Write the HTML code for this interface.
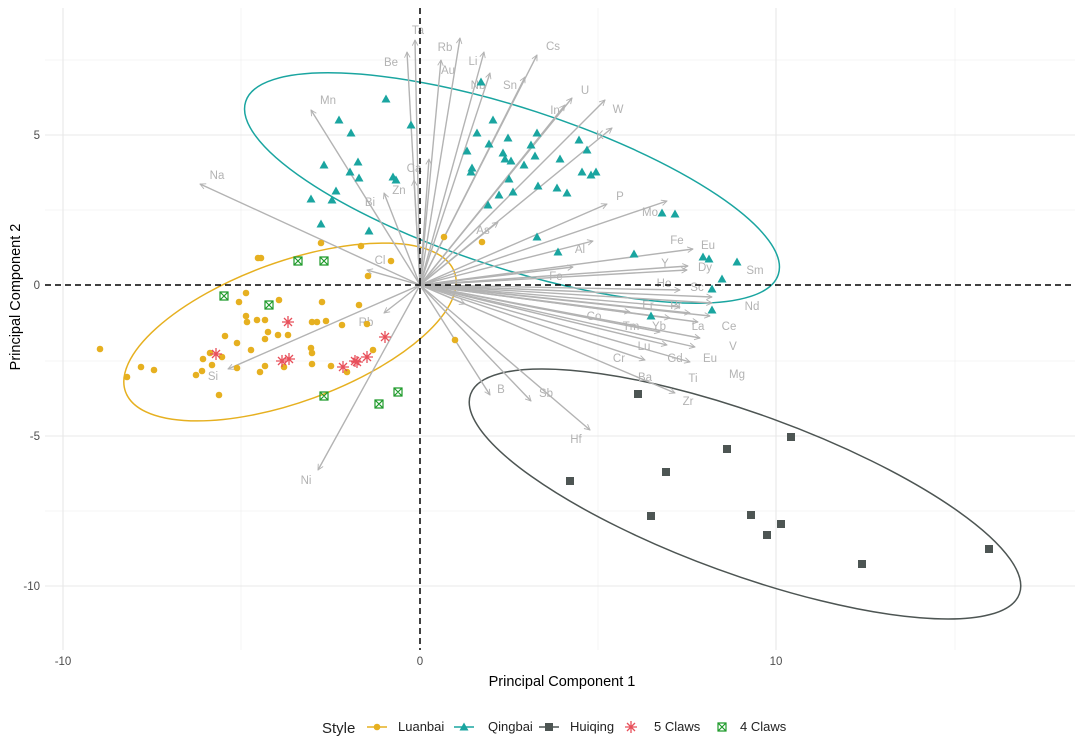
<!DOCTYPE html>
<html><head><meta charset="utf-8"><style>
html,body{margin:0;padding:0;background:#fff;}
svg{display:block;font-family:"Liberation Sans",Arial,sans-serif;}
</style></head><body>
<svg width="1080" height="756" viewBox="0 0 1080 756" xmlns="http://www.w3.org/2000/svg">
<defs>
<marker id="ah" viewBox="0 0 10 10" refX="9" refY="5" markerWidth="7" markerHeight="7" orient="auto" markerUnits="userSpaceOnUse">
<path d="M1,1 L9,5 L1,9" fill="none" stroke="#b3b3b3" stroke-width="1.3"/></marker>
<symbol id="tri" viewBox="-5 -5 10 10" overflow="visible"><path d="M0,-4.5 L4.5,3.5 L-4.5,3.5Z" fill="#1aa5a0"/></symbol>
</defs>
<rect width="1080" height="756" fill="#fff"/>
<g stroke="#f2f2f2" stroke-width="0.8">
<line x1="241" y1="8" x2="241" y2="650"/><line x1="598" y1="8" x2="598" y2="650"/><line x1="955" y1="8" x2="955" y2="650"/>
<line x1="45" y1="60" x2="1075" y2="60"/><line x1="45" y1="210" x2="1075" y2="210"/><line x1="45" y1="361" x2="1075" y2="361"/><line x1="45" y1="511" x2="1075" y2="511"/>
</g>
<g stroke="#e8e8e8" stroke-width="1.1">
<line x1="63" y1="8" x2="63" y2="650"/><line x1="776" y1="8" x2="776" y2="650"/>
<line x1="45" y1="135" x2="1075" y2="135"/><line x1="45" y1="436" x2="1075" y2="436"/><line x1="45" y1="586" x2="1075" y2="586"/>
</g>
<g fill="none" stroke-width="1.5">
<ellipse cx="512" cy="188" rx="280" ry="80" transform="rotate(18 512 188)" stroke="#1aa5a0"/>
<ellipse cx="290" cy="332" rx="175" ry="70" transform="rotate(-20 290 332)" stroke="#e6b020"/>
<ellipse cx="745" cy="494" rx="292" ry="80" transform="rotate(20 745 494)" stroke="#4d5553"/>
</g>
<g stroke="#b3b3b3" stroke-width="1.4" marker-end="url(#ah)">
<line x1="420" y1="285" x2="415" y2="40"/>
<line x1="420" y1="285" x2="407" y2="52"/>
<line x1="420" y1="285" x2="460" y2="38"/>
<line x1="420" y1="285" x2="441" y2="60"/>
<line x1="420" y1="285" x2="484" y2="52"/>
<line x1="420" y1="285" x2="490" y2="73"/>
<line x1="420" y1="285" x2="525" y2="77"/>
<line x1="420" y1="285" x2="537" y2="55"/>
<line x1="420" y1="285" x2="572" y2="98"/>
<line x1="420" y1="285" x2="565" y2="105"/>
<line x1="420" y1="285" x2="605" y2="100"/>
<line x1="420" y1="285" x2="612" y2="128"/>
<line x1="420" y1="285" x2="311" y2="110"/>
<line x1="420" y1="285" x2="200" y2="184"/>
<line x1="420" y1="285" x2="429" y2="159"/>
<line x1="420" y1="285" x2="414" y2="180"/>
<line x1="420" y1="285" x2="384" y2="193"/>
<line x1="420" y1="285" x2="367" y2="270"/>
<line x1="420" y1="285" x2="607" y2="204"/>
<line x1="420" y1="285" x2="667" y2="201"/>
<line x1="420" y1="285" x2="498" y2="222"/>
<line x1="420" y1="285" x2="593" y2="241"/>
<line x1="420" y1="285" x2="693" y2="249"/>
<line x1="420" y1="285" x2="573" y2="267"/>
<line x1="420" y1="285" x2="687" y2="270"/>
<line x1="420" y1="285" x2="688" y2="266"/>
<line x1="420" y1="285" x2="680" y2="290"/>
<line x1="420" y1="285" x2="712" y2="297"/>
<line x1="420" y1="285" x2="712" y2="303"/>
<line x1="420" y1="285" x2="680" y2="307"/>
<line x1="420" y1="285" x2="690" y2="313"/>
<line x1="420" y1="285" x2="710" y2="316"/>
<line x1="420" y1="285" x2="670" y2="318"/>
<line x1="420" y1="285" x2="698" y2="322"/>
<line x1="420" y1="285" x2="630" y2="312"/>
<line x1="420" y1="285" x2="660" y2="332"/>
<line x1="420" y1="285" x2="700" y2="338"/>
<line x1="420" y1="285" x2="667" y2="345"/>
<line x1="420" y1="285" x2="695" y2="347"/>
<line x1="420" y1="285" x2="690" y2="362"/>
<line x1="420" y1="285" x2="645" y2="360"/>
<line x1="420" y1="285" x2="675" y2="393"/>
<line x1="420" y1="285" x2="490" y2="395"/>
<line x1="420" y1="285" x2="531" y2="401"/>
<line x1="420" y1="285" x2="590" y2="430"/>
<line x1="420" y1="285" x2="318" y2="470"/>
<line x1="420" y1="285" x2="228" y2="369"/>
<line x1="420" y1="285" x2="384" y2="313"/>
<line x1="420" y1="285" x2="465" y2="304"/>
</g>
<g fill="#b3b3b3" font-size="11.5" text-anchor="middle">
<text x="418" y="34">Ta</text><text x="391" y="66">Be</text><text x="445" y="51">Rb</text><text x="448" y="74">Au</text>
<text x="473" y="65">Li</text><text x="478" y="89">Nb</text><text x="510" y="89">Sn</text><text x="553" y="50">Cs</text>
<text x="585" y="94">U</text><text x="555" y="114">In</text><text x="618" y="113">W</text><text x="600" y="139">K</text>
<text x="328" y="104">Mn</text><text x="217" y="179">Na</text><text x="414" y="172">Ca</text><text x="399" y="194">Zn</text>
<text x="370" y="206">Bi</text><text x="380" y="264">Cl</text><text x="620" y="200">P</text><text x="650" y="216">Mo</text>
<text x="483" y="234">As</text><text x="580" y="253">Al</text><text x="556" y="280">Fe</text><text x="677" y="244">Fe</text><text x="708" y="249">Eu</text>
<text x="665" y="267">Y</text><text x="705" y="271">Dy</text><text x="755" y="274">Sm</text><text x="664" y="287">Ho</text>
<text x="697" y="291">Sc</text><text x="752" y="310">Nd</text><text x="648" y="309">Er</text><text x="676" y="309">Pr</text><text x="594" y="320">Co</text>
<text x="631" y="330">Tm</text><text x="659" y="330">Yb</text><text x="698" y="330">La</text><text x="729" y="330">Ce</text>
<text x="733" y="350">V</text><text x="644" y="350">Lu</text><text x="675" y="362">Gd</text><text x="710" y="362">Eu</text>
<text x="737" y="378">Mg</text><text x="619" y="362">Cr</text><text x="645" y="381">Ba</text><text x="693" y="382">Ti</text>
<text x="688" y="405">Zr</text><text x="501" y="393">B</text><text x="546" y="397">Sb</text><text x="576" y="443">Hf</text>
<text x="306" y="484">Ni</text><text x="213" y="380">Si</text><text x="366" y="326">Rb</text>
</g>
<g stroke="#000" stroke-width="1.5" stroke-dasharray="6,4">
<line x1="420" y1="8" x2="420" y2="650"/><line x1="45" y1="285" x2="1075" y2="285"/>
</g>
<g fill="#e6b020">
<circle cx="321" cy="243" r="3.3"/><circle cx="361" cy="246" r="3.3"/><circle cx="258" cy="258" r="3.3"/><circle cx="261" cy="258" r="3.3"/><circle cx="391" cy="261" r="3.3"/><circle cx="368" cy="276" r="3.3"/><circle cx="246" cy="293" r="3.3"/><circle cx="239" cy="302" r="3.3"/><circle cx="279" cy="300" r="3.3"/><circle cx="322" cy="302" r="3.3"/><circle cx="359" cy="305" r="3.3"/><circle cx="246" cy="316" r="3.3"/><circle cx="257" cy="320" r="3.3"/><circle cx="265" cy="320" r="3.3"/><circle cx="312" cy="322" r="3.3"/><circle cx="317" cy="322" r="3.3"/><circle cx="326" cy="321" r="3.3"/><circle cx="342" cy="325" r="3.3"/><circle cx="367" cy="324" r="3.3"/><circle cx="247" cy="322" r="3.3"/><circle cx="268" cy="332" r="3.3"/><circle cx="278" cy="335" r="3.3"/><circle cx="288" cy="335" r="3.3"/><circle cx="265" cy="339" r="3.3"/><circle cx="225" cy="336" r="3.3"/><circle cx="237" cy="343" r="3.3"/><circle cx="311" cy="348" r="3.3"/><circle cx="312" cy="353" r="3.3"/><circle cx="373" cy="350" r="3.3"/><circle cx="251" cy="350" r="3.3"/><circle cx="210" cy="353" r="3.3"/><circle cx="222" cy="357" r="3.3"/><circle cx="203" cy="359" r="3.3"/><circle cx="100" cy="349" r="3.3"/><circle cx="141" cy="367" r="3.3"/><circle cx="154" cy="370" r="3.3"/><circle cx="212" cy="365" r="3.3"/><circle cx="202" cy="371" r="3.3"/><circle cx="196" cy="375" r="3.3"/><circle cx="127" cy="377" r="3.3"/><circle cx="237" cy="368" r="3.3"/><circle cx="265" cy="366" r="3.3"/><circle cx="260" cy="372" r="3.3"/><circle cx="284" cy="367" r="3.3"/><circle cx="312" cy="364" r="3.3"/><circle cx="331" cy="366" r="3.3"/><circle cx="347" cy="372" r="3.3"/><circle cx="219" cy="395" r="3.3"/><circle cx="444" cy="237" r="3.3"/><circle cx="482" cy="242" r="3.3"/><circle cx="455" cy="340" r="3.3"/>
</g>
<g>
<use href="#tri" x="381" y="94" width="10" height="10"/><use href="#tri" x="334" y="115" width="10" height="10"/><use href="#tri" x="346" y="128" width="10" height="10"/><use href="#tri" x="406" y="120" width="10" height="10"/><use href="#tri" x="319" y="160" width="10" height="10"/><use href="#tri" x="353" y="157" width="10" height="10"/><use href="#tri" x="345" y="167" width="10" height="10"/><use href="#tri" x="354" y="173" width="10" height="10"/><use href="#tri" x="388" y="172" width="10" height="10"/><use href="#tri" x="391" y="175" width="10" height="10"/><use href="#tri" x="331" y="186" width="10" height="10"/><use href="#tri" x="327" y="195" width="10" height="10"/><use href="#tri" x="306" y="194" width="10" height="10"/><use href="#tri" x="316" y="219" width="10" height="10"/><use href="#tri" x="364" y="226" width="10" height="10"/><use href="#tri" x="476" y="77" width="10" height="10"/><use href="#tri" x="488" y="115" width="10" height="10"/><use href="#tri" x="472" y="128" width="10" height="10"/><use href="#tri" x="503" y="133" width="10" height="10"/><use href="#tri" x="532" y="128" width="10" height="10"/><use href="#tri" x="574" y="135" width="10" height="10"/><use href="#tri" x="484" y="139" width="10" height="10"/><use href="#tri" x="526" y="140" width="10" height="10"/><use href="#tri" x="462" y="146" width="10" height="10"/><use href="#tri" x="498" y="148" width="10" height="10"/><use href="#tri" x="530" y="151" width="10" height="10"/><use href="#tri" x="500" y="154" width="10" height="10"/><use href="#tri" x="506" y="156" width="10" height="10"/><use href="#tri" x="555" y="154" width="10" height="10"/><use href="#tri" x="582" y="145" width="10" height="10"/><use href="#tri" x="519" y="160" width="10" height="10"/><use href="#tri" x="467" y="163" width="10" height="10"/><use href="#tri" x="466" y="167" width="10" height="10"/><use href="#tri" x="577" y="167" width="10" height="10"/><use href="#tri" x="591" y="167" width="10" height="10"/><use href="#tri" x="586" y="170" width="10" height="10"/><use href="#tri" x="504" y="174" width="10" height="10"/><use href="#tri" x="508" y="187" width="10" height="10"/><use href="#tri" x="494" y="190" width="10" height="10"/><use href="#tri" x="533" y="181" width="10" height="10"/><use href="#tri" x="552" y="183" width="10" height="10"/><use href="#tri" x="562" y="188" width="10" height="10"/><use href="#tri" x="483" y="200" width="10" height="10"/><use href="#tri" x="532" y="232" width="10" height="10"/><use href="#tri" x="553" y="247" width="10" height="10"/><use href="#tri" x="629" y="249" width="10" height="10"/><use href="#tri" x="657" y="208" width="10" height="10"/><use href="#tri" x="670" y="209" width="10" height="10"/><use href="#tri" x="698" y="252" width="10" height="10"/><use href="#tri" x="704" y="254" width="10" height="10"/><use href="#tri" x="732" y="257" width="10" height="10"/><use href="#tri" x="717" y="274" width="10" height="10"/><use href="#tri" x="707" y="284" width="10" height="10"/><use href="#tri" x="707" y="305" width="10" height="10"/><use href="#tri" x="646" y="311" width="10" height="10"/>
</g>
<g fill="#4d5553">
<rect x="634" y="390" width="8" height="8"/><rect x="566" y="477" width="8" height="8"/><rect x="647" y="512" width="8" height="8"/><rect x="662" y="468" width="8" height="8"/><rect x="723" y="445" width="8" height="8"/><rect x="787" y="433" width="8" height="8"/><rect x="747" y="511" width="8" height="8"/><rect x="763" y="531" width="8" height="8"/><rect x="777" y="520" width="8" height="8"/><rect x="858" y="560" width="8" height="8"/><rect x="985" y="545" width="8" height="8"/>
</g>
<path stroke="#e8505b" stroke-width="1.3" fill="none" d="M288,316v12M282,322h12M284,318l8,8M292,318l-8,8M216,348v12M210,354h12M212,350l8,8M220,350l-8,8M282,355v12M276,361h12M278,357l8,8M286,357l-8,8M289,353v12M283,359h12M285,355l8,8M293,355l-8,8M343,361v12M337,367h12M339,363l8,8M347,363l-8,8M355,355v12M349,361h12M351,357l8,8M359,357l-8,8M357,356v12M351,362h12M353,358l8,8M361,358l-8,8M367,351v12M361,357h12M363,353l8,8M371,353l-8,8M385,331v12M379,337h12M381,333l8,8M389,333l-8,8"/>
<path stroke="#1e9a2a" stroke-width="1.2" fill="none" d="M294,257h8v8h-8zM294,257l8,8M302,257l-8,8M320,257h8v8h-8zM320,257l8,8M328,257l-8,8M220,292h8v8h-8zM220,292l8,8M228,292l-8,8M265,301h8v8h-8zM265,301l8,8M273,301l-8,8M320,392h8v8h-8zM320,392l8,8M328,392l-8,8M375,400h8v8h-8zM375,400l8,8M383,400l-8,8M394,388h8v8h-8zM394,388l8,8M402,388l-8,8"/>
<g fill="#4d4d4d" font-size="11.5">
<g text-anchor="end"><text x="40" y="139">5</text><text x="40" y="289">0</text><text x="40" y="440">-5</text><text x="40" y="590">-10</text></g>
<g text-anchor="middle"><text x="63" y="665">-10</text><text x="420" y="665">0</text><text x="776" y="665">10</text></g>
</g>
<text x="562" y="686" text-anchor="middle" font-size="14.5" fill="#000">Principal Component 1</text>
<text transform="translate(20,297) rotate(-90)" text-anchor="middle" font-size="14.5" fill="#000">Principal Component 2</text>
<g font-size="13" fill="#222">
<text x="322" y="733" font-size="15">Style</text>
<line x1="367" y1="727" x2="387" y2="727" stroke="#e6b020" stroke-width="1.5"/><circle cx="377" cy="727" r="3.3" fill="#e6b020"/>
<text x="398" y="731">Luanbai</text>
<line x1="454" y1="727" x2="474" y2="727" stroke="#1aa5a0" stroke-width="1.5"/><use href="#tri" x="459" y="722" width="10" height="10"/>
<text x="488" y="731">Qingbai</text>
<line x1="539" y1="727" x2="559" y2="727" stroke="#4d5553" stroke-width="1.5"/><rect x="545" y="723" width="8" height="8" fill="#4d5553"/>
<text x="570" y="731">Huiqing</text>
<path d="M631,721v12M625,727h12M627,723l8,8M635,723l-8,8" stroke="#e8505b" stroke-width="1.3"/>
<text x="654" y="731">5 Claws</text>
<path d="M718,723h8v8h-8zM718,723l8,8M726,723l-8,8" stroke="#1e9a2a" stroke-width="1.2" fill="none"/>
<text x="740" y="731">4 Claws</text>
</g>
</svg>
</body></html>
